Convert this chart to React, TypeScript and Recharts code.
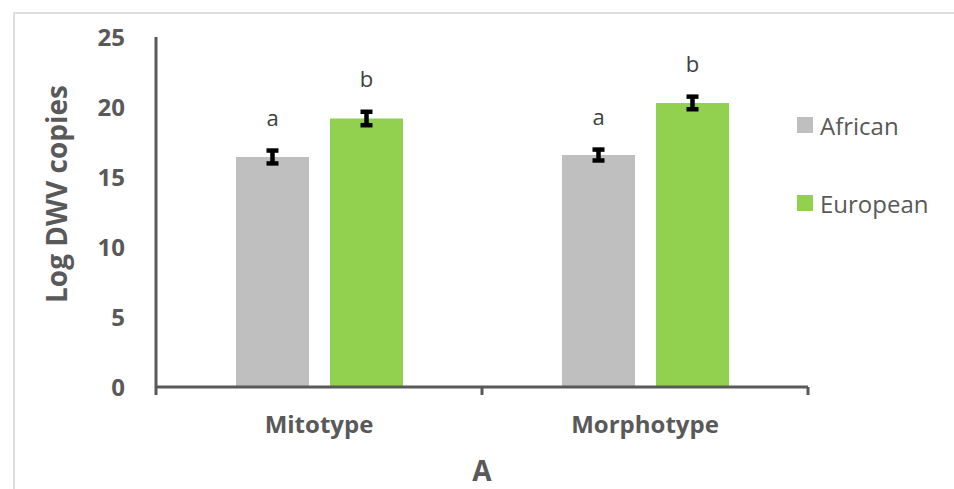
import React from "react";
import { Bar, BarChart, ErrorBar, LabelList, Legend, XAxis, YAxis } from "recharts";

const categories = ["Mitotype", "Morphotype"];
const african = [16.43, 16.57];
const africanErr = [0.46, 0.39];
const african_letters = ["a", "a"];
const european = [19.18, 20.29];
const europeanErr = [0.48, 0.45];
const european_letters = ["b", "b"];
const yTicks = [0, 5, 10, 15, 20, 25];

const TEXT = "#595959";
const FONT = "'Open Sans', sans-serif";
const W = 954;
const H = 489;
const LEGEND_W = 146;
const MARGIN = { top: 37, right: 0, bottom: 0, left: 0 };
const Y_W = 156;
const X_H = 102;
const HALF_BAND = (W - Y_W - LEGEND_W) / categories.length / 2;

const data = categories.map((c, i) => ({
  name: c,
  African: african[i],
  africanErr: africanErr[i],
  africanLetter: african_letters[i],
  European: european[i],
  europeanErr: europeanErr[i],
  europeanLetter: european_letters[i],
}));

// px per unit, used to lift the letters above the error bar
const PX_PER_UNIT = (H - MARGIN.top - X_H) / 25;

function letterLabel(errs: number[]) {
  return (props: any) => {
    const { x, y, width, value, index } = props;
    const lift = errs[index] * PX_PER_UNIT + 25;
    return (
      <text
        x={x + width / 2}
        y={y - lift}
        textAnchor="middle"
        fill="#404040"
        fontFamily={FONT}
        fontSize={22}
      >
        {value}
      </text>
    );
  };
}

function CatTick(props: any) {
  const { x, y, payload, index } = props;
  const last = index === categories.length - 1;
  return (
    <g>
      <line x1={x - HALF_BAND} x2={x - HALF_BAND} y1={y} y2={y + 8} stroke={TEXT} strokeWidth={3} />
      {last && <line x1={x + HALF_BAND} x2={x + HALF_BAND} y1={y} y2={y + 8} stroke={TEXT} strokeWidth={3} />}
      <text x={x} y={y + 46} textAnchor="middle" fill={TEXT} fontFamily={FONT} fontWeight={700} fontSize={24}>
        {payload.value}
      </text>
    </g>
  );
}

function YLabel(props: any) {
  const { viewBox } = props;
  const cx = 67;
  const cy = viewBox.y + viewBox.height / 2 - 18;
  return (
    <text
      x={cx}
      y={cy}
      transform={`rotate(-90 ${cx} ${cy})`}
      textAnchor="middle"
      fill={TEXT}
      fontFamily={FONT}
      fontWeight={700}
      fontSize={28}
    >
      Log DWV copies
    </text>
  );
}

function LegendBox(props: any) {
  const { payload } = props;
  return (
    <div style={{ fontFamily: FONT, paddingLeft: 0 }}>
      {payload.map((p: any) => (
        <div key={p.value} style={{ display: "flex", alignItems: "center", height: 32, marginBottom: 46 }}>
          <div style={{ width: 16, height: 16, background: p.color, marginRight: 7 }} />
          <span style={{ fontSize: 24, color: TEXT }}>{p.value}</span>
        </div>
      ))}
    </div>
  );
}

export default function App() {
  return (
    <div style={{ position: "absolute", left: 0, top: 0, width: W, height: H, background: "#fff" }}>
      <div
        style={{
          position: "absolute",
          left: 13,
          top: 12,
          right: 0,
          bottom: 0,
          borderLeft: "2px solid #dedede",
          borderTop: "2px solid #dedede",
        }}
      />
      <div style={{ position: "absolute", left: 0, top: 0 }}>
        <BarChart width={W} height={H} data={data} margin={MARGIN} barSize={73} barGap={21}>
          <XAxis
            dataKey="name"
            height={X_H}
            stroke={TEXT}
            strokeWidth={3}
            tickLine={false}
            tickSize={0}
            tickMargin={0}
            tick={<CatTick />}
            label={{
              value: "A",
              position: "insideBottom",
              offset: 8,
              fill: TEXT,
              fontFamily: FONT,
              fontWeight: 700,
              fontSize: 28,
            }}
          />
          <YAxis
            width={Y_W}
            domain={[0, 25]}
            ticks={yTicks}
            interval={0}
            stroke={TEXT}
            strokeWidth={3}
            tickLine={false}
            tickSize={0}
            tickMargin={31}
            tick={{ fill: TEXT, fontFamily: FONT, fontWeight: 700, fontSize: 24 }}
            label={<YLabel />}
          />
          <Legend
            layout="vertical"
            align="right"
            verticalAlign="top"
            content={<LegendBox />}
            wrapperStyle={{ width: LEGEND_W, top: 109, left: 797 }}
          />
          <Bar dataKey="African" fill="#bfbfbf" isAnimationActive={false}>
            <ErrorBar dataKey="africanErr" width={6} stroke="#000" strokeWidth={4.5} />
            <LabelList dataKey="africanLetter" content={letterLabel(africanErr)} />
          </Bar>
          <Bar dataKey="European" fill="#92d050" isAnimationActive={false}>
            <ErrorBar dataKey="europeanErr" width={6} stroke="#000" strokeWidth={4.5} />
            <LabelList dataKey="europeanLetter" content={letterLabel(europeanErr)} />
          </Bar>
        </BarChart>
      </div>
    </div>
  );
}
